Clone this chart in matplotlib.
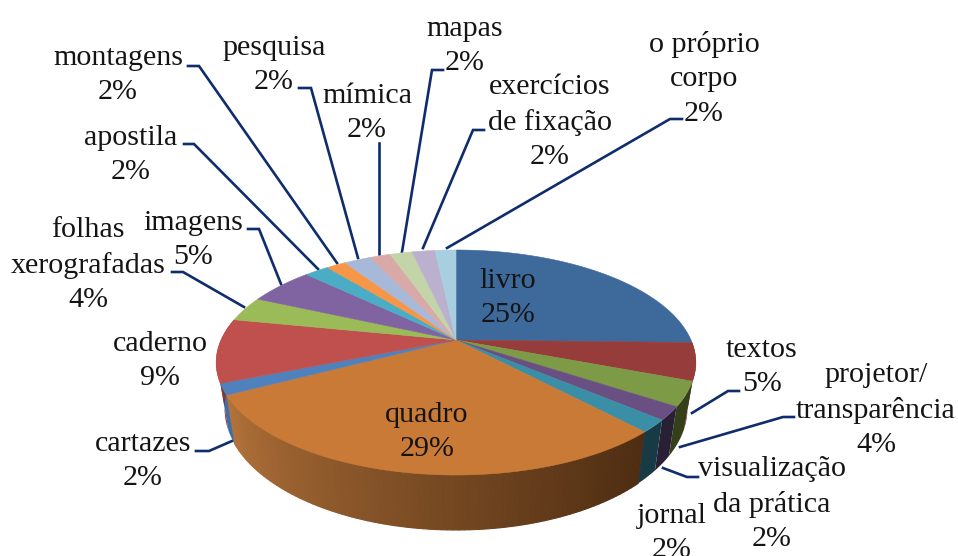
import numpy as np
import matplotlib
matplotlib.use("Agg")
import matplotlib.pyplot as plt
from matplotlib.colors import to_rgb

W, H = 958, 556

categories = ["livro", "textos", "projetor/\ntransparência", "visualização\nda prática",
              "jornal", "quadro", "cartazes", "caderno", "folhas\nxerografadas", "imagens",
              "apostila", "montagens", "pesquisa", "mímica", "mapas",
              "exercícios\nde fixação", "o próprio\ncorpo"]
values = [25.4, 5.4, 3.5, 1.9, 1.8, 29.4, 1.6, 9.2, 3.6, 5.4, 2.0, 1.6, 2.2, 1.7, 1.8, 1.9, 1.7]
top_colors = ["#3e6a9b", "#963c3a", "#7d9a47", "#6a4f82", "#3a8ea5", "#c97a36", "#4f81bd",
              "#c0504d", "#9bbb59", "#8064a2", "#4bacc6", "#f79646", "#a7b8d8", "#d9a9a8",
              "#c3d5a8", "#bcb0cf", "#a8cfe0"]
wall_colors = ["#3e6a9b", "#6a2a28", "#35401a", "#2a2036", "#173a45", "#c97a36", "#3f6ea8",
               "#8a3330", "#9bbb59", "#8064a2", "#4bacc6", "#f79646", "#a7b8d8", "#d9a9a8",
               "#c3d5a8", "#bcb0cf", "#a8cfe0"]
label_centers = [(508, 298), (762, 367), (876, 410), (772, 504), (672, 533), (427, 432),
                 (143, 461), (160, 361), (88, 265), (193, 240), (131, 155), (118, 75),
                 (274, 65), (367, 113), (465, 46), (550, 122), (704, 79)]
leaders = [None,
           [(692, 413), (728, 391), (739, 391)],
           [(680, 447), (783, 417), (794, 417)],
           [(663, 468), (687, 477), (698, 477)],
           None, None,
           [(232, 441), (209, 451), (196, 451)],
           None,
           [(244, 307), (183, 272), (172, 272)],
           [(281, 284), (259, 229), (248, 229)],
           [(318, 269), (194, 144), (184, 144)],
           [(337, 263), (199, 66), (188, 66)],
           [(358, 258), (311, 88), (299, 88)],
           [(379, 254), (379, 143)],
           [(402, 252), (432, 70), (443, 70)],
           [(423, 248), (473, 130), (484, 130)],
           [(447, 248), (670, 119), (682, 119)]]

CX, CY, B, A, K, D, S = 456, 340, 235, 108, 0.2, 44, 0.965


def rim(theta, drop=False):
    u, v = np.sin(theta), np.cos(theta)
    q = 1 + K * v
    if drop:
        return CX + S * B * u / q, CY + (A * -v + D) / q
    return CX + B * u / q, CY + A * -v / q


fig = plt.figure(figsize=(W / 100, H / 100), dpi=100, facecolor="white")
ax = fig.add_axes([0, 0, 1, 1])
ax.set_xlim(0, W)
ax.set_ylim(H, 0)
ax.axis("off")

shares = np.array(values) / sum(values)
edges = np.concatenate([[0], np.cumsum(shares)]) * 2 * np.pi

# side wall
grad_a, grad_b = np.array(to_rgb("#4e2d12")), np.array(to_rgb("#b4733a"))
for i, (a0, a1) in enumerate(zip(edges[:-1], edges[1:])):
    if np.cos((a0 + a1) / 2) >= 0.2:
        continue
    if categories[i] == "quadro":
        ts = np.linspace(a0, a1, 90)
        for t0, t1 in zip(ts[:-1], ts[1:]):
            f = (t0 - a0) / (a1 - a0)
            col = grad_a + (grad_b - grad_a) * f ** 1.1
            th = np.array([t0, t1])
            x0, y0 = rim(th)
            x1, y1 = rim(th[::-1], drop=True)
            ax.fill(np.r_[x0, x1], np.r_[y0, y1], facecolor=col, edgecolor=col, lw=0.8, zorder=2)
    else:
        th = np.linspace(a0, a1, 30)
        x0, y0 = rim(th)
        x1, y1 = rim(th[::-1], drop=True)
        ax.fill(np.r_[x0, x1], np.r_[y0, y1], color=wall_colors[i], lw=0, zorder=2.5)

# top face
for i, (a0, a1) in enumerate(zip(edges[:-1], edges[1:])):
    th = np.linspace(a0, a1, 80)
    x, y = rim(th)
    ax.fill(np.r_[CX, x], np.r_[CY, y], facecolor=top_colors[i], edgecolor=top_colors[i],
            lw=0.4, zorder=3)

# labels
for name, val, (lx, ly), lead in zip(categories, values, label_centers, leaders):
    ax.text(lx, ly, f"{name}\n{round(val)}%", ha="center", va="center", ma="center",
            family="Liberation Serif", fontsize=21.6, color="#141414", linespacing=1.42, zorder=6)
    if lead:
        ax.plot(*zip(*lead), color="#0f2d6c", lw=1.9, solid_joinstyle="miter", zorder=1)

fig.savefig("out.png", dpi=100, facecolor="white")
